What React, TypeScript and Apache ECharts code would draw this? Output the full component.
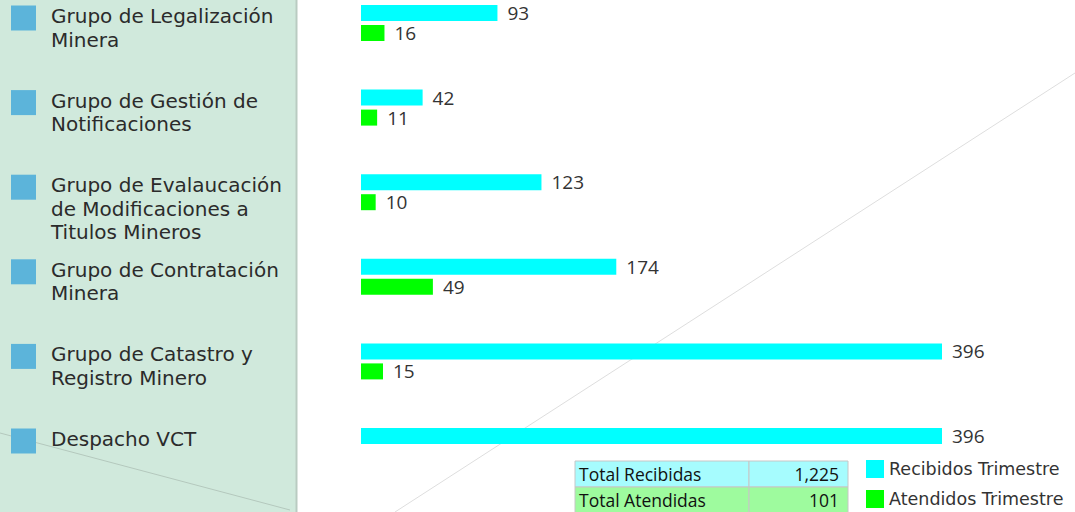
import React, { useEffect, useRef } from "react";
import * as echarts from "echarts";

const categories = [
  "Grupo de Legalización\nMinera",
  "Grupo de Gestión de\nNotificaciones",
  "Grupo de Evalaucación\nde Modificaciones a\nTitulos Mineros",
  "Grupo de Contratación\nMinera",
  "Grupo de Catastro y\nRegistro Minero",
  "Despacho VCT",
];
const recibidos = [93, 42, 123, 174, 396, 396];
const atendidos: (number | null)[] = [16, 11, 10, 49, 15, null];
const seriesNames = ["Recibidos Trimestre", "Atendidos Trimestre"];
const totalLabels = ["Total Recibidas", "Total Atendidas"];
const totals = [1225, 101];

const FONT = '"Open Sans", "Noto Sans", sans-serif';
const WIDE = '"DejaVu Sans", "Noto Sans", sans-serif';

export default function App() {
  const ref = useRef<HTMLDivElement>(null);
  useEffect(() => {
    document.body.style.margin = "0";
    if (!ref.current) return;
    const chart = echarts.init(ref.current, undefined, { renderer: "svg" });
    chart.setOption({
      animation: false,
      backgroundColor: "#ffffff",
      grid: { left: 361, right: 133, top: 23, bottom: 66, containLabel: false },
      xAxis: { type: "value", min: 0, max: 396, show: false },
      yAxis: { type: "category", inverse: true, boundaryGap: false, data: categories, show: false },
      legend: {
        orient: "vertical",
        left: 866,
        top: 460,
        padding: 0,
        itemWidth: 18,
        itemHeight: 18,
        itemGap: 12,
        icon: "rect",
        data: seriesNames,
        textStyle: { fontSize: 17.5, color: "#333", fontFamily: WIDE },
      },
      series: [
        {
          name: seriesNames[0],
          type: "bar",
          data: recibidos,
          barWidth: 16,
          barGap: "25%",
          itemStyle: { color: "#00ffff" },
          label: { show: true, position: "right", distance: 10, fontSize: 19, color: "#333", fontFamily: FONT },
          z: 3,
        },
        {
          name: seriesNames[1],
          type: "bar",
          data: atendidos,
          barWidth: 16,
          itemStyle: { color: "#00ff00" },
          label: { show: true, position: "right", distance: 10, fontSize: 19, color: "#333", fontFamily: FONT },
          z: 3,
        },
      ],
    });

    const graphics: any[] = [
      { type: "rect", z: -10, silent: true, shape: { x: 0, y: 0, width: 296, height: 512 }, style: { fill: "#d0e9dc" } },
      { type: "line", z: -9, silent: true, shape: { x1: 296.5, y1: 0, x2: 296.5, y2: 512 }, style: { stroke: "#b9cbc1", lineWidth: 2 } },
      { type: "line", z: -8, silent: true, shape: { x1: 0, y1: 433, x2: 290, y2: 510 }, style: { stroke: "#b4c8bd", lineWidth: 1 } },
      { type: "line", z: -8, silent: true, shape: { x1: 395, y1: 512, x2: 1075, y2: 73 }, style: { stroke: "#dedede", lineWidth: 1 } },
    ];

    categories.forEach((c, i) => {
      const cy = chart.convertToPixel({ yAxisIndex: 0 }, i) as number;
      const sq = cy - 5;
      graphics.push({
        type: "rect",
        z: 5,
        shape: { x: 11, y: sq - 12.5, width: 25, height: 25 },
        style: { fill: "#5cb4da" },
      });
      c.split("\n").forEach((line, j) => {
        graphics.push({
          type: "text",
          z: 5,
          x: 51,
          y: sq - 2 + j * 23.5,
          style: {
            text: line,
            fill: "#2b2b2b",
            fontSize: 20,
            fontFamily: WIDE,
            verticalAlign: "middle",
            align: "left",
          },
        });
      });
    });

    const rowColors = ["#a6fcfe", "#9efb9e"];
    totalLabels.forEach((t, i) => {
      const y = 461 + i * 26;
      graphics.push({
        type: "rect",
        z: 5,
        shape: { x: 575, y, width: 174, height: 26 },
        style: { fill: rowColors[i], stroke: "#c6c6c6", lineWidth: 1 },
      });
      graphics.push({
        type: "rect",
        z: 5,
        shape: { x: 749, y, width: 99, height: 26 },
        style: { fill: rowColors[i], stroke: "#c6c6c6", lineWidth: 1 },
      });
      graphics.push({
        type: "text",
        z: 6,
        x: 579,
        y: y + 13,
        style: { text: t, fill: "#111", fontSize: 17.5, fontFamily: FONT, fontWeight: 500, verticalAlign: "middle", align: "left" },
      });
      graphics.push({
        type: "text",
        z: 6,
        x: 839,
        y: y + 13,
        style: { text: totals[i].toLocaleString("en-US"), fill: "#111", fontSize: 17.5, fontFamily: FONT, fontWeight: 500, verticalAlign: "middle", align: "right" },
      });
    });

    chart.setOption({ graphic: graphics });
    return () => chart.dispose();
  }, []);
  return <div ref={ref} style={{ width: 1075, height: 512 }} />;
}
